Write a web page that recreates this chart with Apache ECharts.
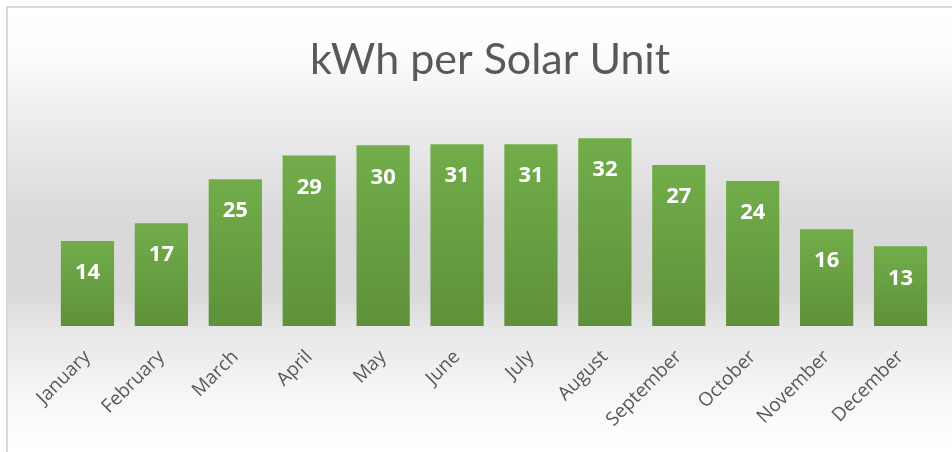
<!DOCTYPE html>
<html>
<head>
<meta charset="utf-8">
<script src="https://cdn.jsdelivr.net/npm/echarts@6/dist/echarts.min.js"></script>
<style>
  html, body { margin: 0; padding: 0; width: 952px; height: 452px; overflow: hidden; background: #fff; }
  #frame { position: absolute; left: 6px; top: 6px; width: 960px; height: 460px; border-left: 2px solid #d9d9d9; border-top: 2px solid #d9d9d9; }
  #main { position: absolute; left: 0; top: 0; width: 944px; height: 444px; }
</style>
</head>
<body>
<div id="frame"><div id="main"></div></div>
<script>
// months along the x axis
const months = ['January', 'February', 'March', 'April', 'May', 'June',
  'July', 'August', 'September', 'October', 'November', 'December'];
// kWh per unit (labels show rounded values)
const kwh = [14.3, 17.3, 24.7, 28.7, 30.4, 30.6, 30.6, 31.6, 27.1, 24.4, 16.3, 13.4];

const chart = echarts.init(document.getElementById('main'));

const option = {
  backgroundColor: new echarts.graphic.LinearGradient(0, 0, 0, 1, [
    { offset: 0, color: '#ffffff' },
    { offset: 0.09, color: '#fdfdfd' },
    { offset: 0.27, color: '#ebebeb' },
    { offset: 0.48, color: '#d9d9d9' },
    { offset: 0.64, color: '#d9d9d9' },
    { offset: 0.725, color: '#e7e7e7' },
    { offset: 0.89, color: '#f8f8f8' },
    { offset: 1, color: '#ffffff' }
  ]),
  animation: false,
  title: {
    text: 'kWh per Solar Unit',
    left: 477,
    textAlign: 'center',
    top: 26,
    textStyle: {
      fontFamily: 'Lato',
      fontWeight: 'normal',
      fontSize: 43,
      color: '#595959'
    }
  },
  grid: {
    left: 42.5,
    right: 14.5,
    top: 110,
    bottom: 126
  },
  xAxis: {
    type: 'category',
    data: months,
    axisLine: { show: false },
    axisTick: { show: false },
    axisLabel: {
      rotate: 45,
      margin: 28,
      interval: 0,
      fontFamily: 'Open Sans',
      fontSize: 19,
      color: '#595959'
    }
  },
  yAxis: {
    type: 'value',
    min: 0,
    max: 35,
    show: false
  },
  series: [
    {
      type: 'bar',
      data: kwh,
      barCategoryGap: '28%',
      itemStyle: {
        color: new echarts.graphic.LinearGradient(0, 0, 0, 1, [
          { offset: 0, color: '#72ad4a' },
          { offset: 1, color: '#5e913a' }
        ])
      },
      label: {
        show: true,
        position: 'insideTop',
        distance: 21,
        formatter: p => Math.round(p.value),
        fontFamily: 'Open Sans',
        fontWeight: 'bold',
        fontSize: 22,
        color: '#ffffff'
      }
    }
  ]
};

chart.setOption(option);
</script>
</body>
</html>
